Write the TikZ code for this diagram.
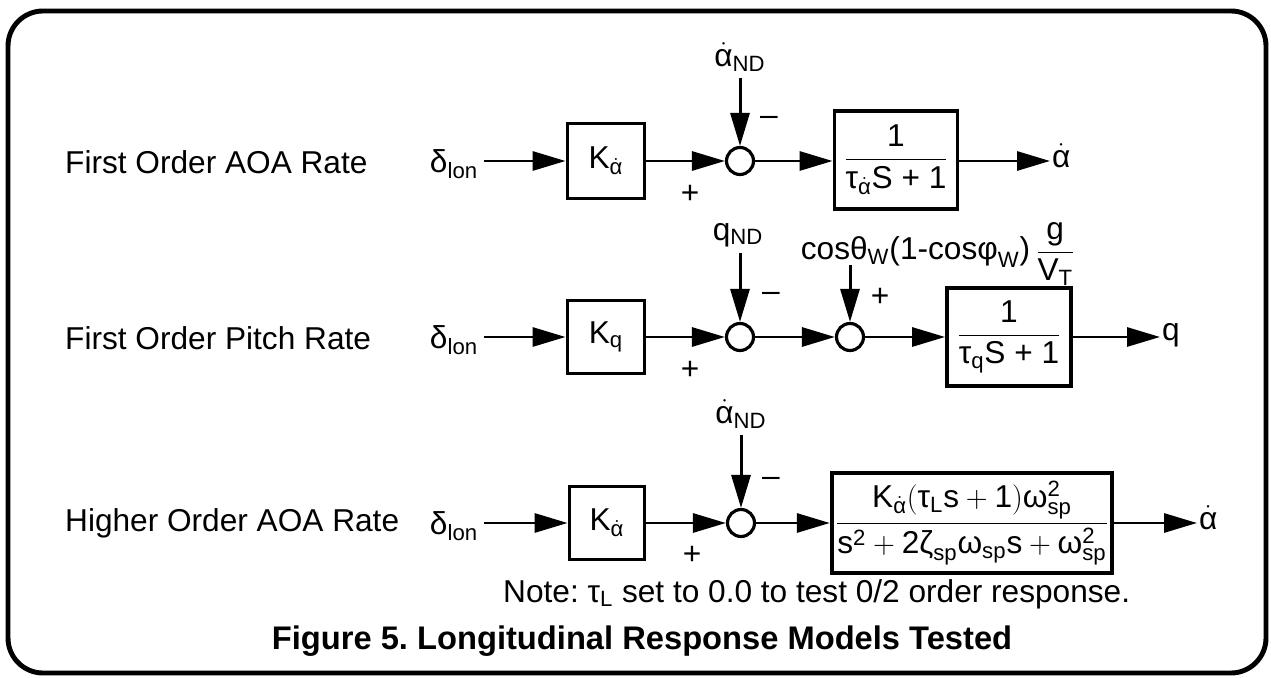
\documentclass[tikz,border=0pt]{standalone}
\usepackage{amsmath}
\usepackage{fontspec}
\setmainfont{Liberation Sans}
\usetikzlibrary{arrows.meta, calc}
\newcommand{\gk}[1]{\text{#1}}
\newcommand{\adot}{\dot{\text{α}}}

\begin{document}
\frenchspacing
\begin{tikzpicture}[
    x=0.02cm, y=-0.02cm,
    every node/.style={font=\fontsize{18}{21}\selectfont},
    blk/.style={draw, line width=2.2pt, inner sep=2pt},
    sumj/.style={draw, circle, line width=1.8pt, minimum size=0.54cm, inner sep=0pt},
    sig/.style={line width=1.7pt, -{Triangle[length=0.66cm, width=0.38cm]}},
    sgn/.style={inner sep=0pt},
    ]
    \useasboundingbox (0,0) rectangle (1271,678);
    \draw[line width=2.8pt, rounded corners=0.7cm] (8,11) rectangle (1266,673);

    % First order AOA rate
    \node[anchor=west] (name1) at (59,162) {First Order AOA Rate};
    \node (dl1) at (454,164) {$\gk{δ}_{\text{lon}}$};
    \node[blk, minimum width=1.54cm, minimum height=1.5cm] (ka1) at (606,161) {K$_{\adot}$};
    \node[sumj] (s1) at (740,161) {};
    \node[blk, minimum width=2.46cm, minimum height=1.96cm] (g1) at (896,160)
        {$\dfrac{\text{1}}{\gk{τ}_{\adot}\text{S + 1}}$};
    \node[anchor=west, inner sep=1pt] (y1) at (1050,156) {$\adot$};
    \node (n1) at (740,57) {$\adot_{\text{ND}}$};
    \node[sgn] (m1) at (769,121) {\textendash};
    \node[sgn] (p1) at (690,194) {+};
    \draw[sig] (dl1.east |- ka1) -- (ka1);
    \draw[sig] (ka1) -- (s1);
    \draw[sig] (s1) -- (g1.west |- s1);
    \draw[sig] (g1.east |- s1) -- (y1.west |- s1);
    \draw[sig] (n1) -- (s1);

    % First order pitch rate
    \node[anchor=west] (name2) at (59,338) {First Order Pitch Rate};
    \node (dl2) at (454,340) {$\gk{δ}_{\text{lon}}$};
    \node[blk, minimum width=1.54cm, minimum height=1.46cm] (kq2) at (606,337) {K$_{\text{q}}$};
    \node[sumj] (s2) at (740,337) {};
    \node[sumj] (s22) at (850,337) {};
    \node[blk, minimum width=2.48cm, minimum height=1.96cm] (g2) at (1009,337)
        {$\dfrac{\text{1}}{\gk{τ}_{\text{q}}\text{S + 1}}$};
    \node[anchor=west, inner sep=1pt] (y2) at (1160,335) {q};
    \node (n2) at (738,235) {q$_{\text{ND}}$};
    \node (cw) at (938,254)
        {cos$\gk{θ}_{\text{W}}$(1-cos$\gk{φ}_{\text{W}}$)\,$\dfrac{\text{g}}{\text{V}_{\text{T}}}$};
    \coordinate (cwt) at (850,265);
    \node[sgn] (m2) at (771,297) {\textendash};
    \node[sgn] (p22) at (880,297) {+};
    \node[sgn] (p2) at (690,370) {+};
    \draw[sig] (dl2.east |- kq2) -- (kq2);
    \draw[sig] (kq2) -- (s2);
    \draw[sig] (s2) -- (s22);
    \draw[sig] (s22) -- (g2);
    \draw[sig] (g2) -- (y2.west |- g2);
    \draw[sig] (n2.south -| s2) -- (s2);
    \draw[sig] (cwt) -- (s22);

    % Higher order AOA rate
    \node[anchor=west] (name3) at (59,523) {Higher Order AOA Rate};
    \node (dl3) at (454,526) {$\gk{δ}_{\text{lon}}$};
    \node[blk, minimum width=1.5cm, minimum height=1.46cm] (ka3) at (607,523) {K$_{\adot}$};
    \node[sumj] (s3) at (741,523) {};
    \node[blk, minimum width=5.4cm, minimum height=2cm] (g3) at (972,523)
        {$\dfrac{\text{K}_{\adot}(\gk{τ}_{\text{L}}\text{s}+\text{1})\gk{ω}_{\text{sp}}^{\text{2}}}
        {\text{s}^{\text{2}}+\text{2}\gk{ζ}_{\text{sp}}\gk{ω}_{\text{sp}}\text{s}+\gk{ω}_{\text{sp}}^{\text{2}}}$};
    \node[anchor=west, inner sep=1pt] (y3) at (1197,518) {$\adot$};
    \node (n3) at (741,414) {$\adot_{\text{ND}}$};
    \node[sgn] (m3) at (771,482) {\textendash};
    \node[sgn] (p3) at (692,555) {+};
    \draw[sig] (dl3.east |- ka3) -- (ka3);
    \draw[sig] (ka3) -- (s3);
    \draw[sig] (s3) -- (g3.west |- s3);
    \draw[sig] (g3.east |- s3) -- (y3.west |- s3);
    \draw[sig] (n3) -- (s3);

    \node[anchor=west] (note) at (497,594) {Note: $\gk{τ}_{\text{L}}$ set to 0.0 to test 0/2 order response.};
    \node[font=\fontsize{18.6}{22}\selectfont\bfseries] (cap) at (642,641)
        {Figure 5. Longitudinal Response Models Tested};
\end{tikzpicture}
\end{document}
